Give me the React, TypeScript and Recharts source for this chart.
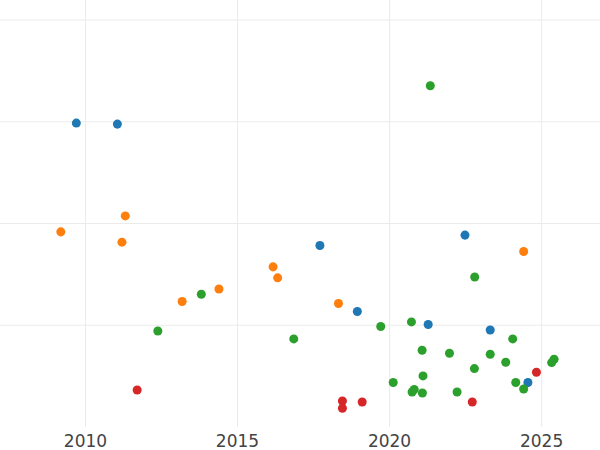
import { ScatterChart, Scatter, XAxis, YAxis, CartesianGrid } from "recharts";

type Pt = { x: number; y: number };

const blueX = [2009.7, 2011.05, 2017.71, 2018.94, 2021.27, 2022.48, 2023.31, 2024.55];
const blueY = [2.987, 2.977, 1.784, 1.135, 1.007, 1.886, 0.954, 0.437];

const orangeX = [2009.19, 2011.2, 2011.31, 2013.18, 2014.39, 2016.17, 2016.32, 2018.32, 2024.41];
const orangeY = [1.918, 1.817, 2.075, 1.233, 1.357, 1.574, 1.466, 1.214, 1.725];

const greenX = [
  2021.34, 2012.38, 2013.81, 2016.85, 2019.71, 2020.72, 2021.07, 2021.97, 2022.8, 2023.31, 2024.05,
  2023.82, 2022.79, 2021.1, 2020.12, 2020.74, 2020.81, 2021.08, 2022.22, 2024.15, 2024.41, 2025.33,
  2025.41,
];
const greenY = [
  3.354, 0.944, 1.305, 0.866, 0.988, 1.033, 0.754, 0.725, 1.475, 0.715, 0.866, 0.636, 0.574, 0.502,
  0.437, 0.344, 0.368, 0.334, 0.344, 0.437, 0.374, 0.633, 0.666,
];

const redX = [2011.7, 2018.45, 2018.45, 2019.1, 2022.72, 2024.83];
const redY = [0.364, 0.256, 0.184, 0.246, 0.246, 0.538];

const xDomain = [2007.19, 2026.92];
const yDomain = [0, 4.197];
const xTicks = [2010, 2015, 2020, 2025];
const yTicks = [1, 2, 3, 4];

function zip(xs: number[], ys: number[]): Pt[] {
  return xs.map((x, i) => ({ x, y: ys[i] }));
}

const series = [
  { name: "blue", color: "#1f77b4", data: zip(blueX, blueY) },
  { name: "orange", color: "#ff7f0e", data: zip(orangeX, orangeY) },
  { name: "green", color: "#2ca02c", data: zip(greenX, greenY) },
  { name: "red", color: "#d62728", data: zip(redX, redY) },
];

// only grid lines at the ticks, no border lines
const hLines = ({ offset }: any) =>
  yTicks.map(
    (t) => offset.top + offset.height * (1 - (t - yDomain[0]) / (yDomain[1] - yDomain[0]))
  );
const vLines = ({ offset }: any) =>
  xTicks.map((t) => offset.left + (offset.width * (t - xDomain[0])) / (xDomain[1] - xDomain[0]));

export default function App() {
  return (
    <div style={{ position: "fixed", top: 0, left: 0, width: 600, height: 450, background: "#fff" }}>
      <ScatterChart width={600} height={450} margin={{ top: 0, right: 0, bottom: 0, left: 0 }}>
        <CartesianGrid
          stroke="#ebebeb"
          strokeWidth={1}
          horizontalCoordinatesGenerator={hLines}
          verticalCoordinatesGenerator={vLines}
        />
        <XAxis
          type="number"
          dataKey="x"
          domain={xDomain}
          ticks={xTicks}
          allowDataOverflow
          axisLine={false}
          tickLine={false}
          height={23}
          tick={{ fill: "#444", fontSize: 17, fontFamily: "DejaVu Sans" }}
        />
        <YAxis
          type="number"
          dataKey="y"
          domain={yDomain}
          ticks={yTicks}
          allowDataOverflow
          width={0}
          hide
        />
        {series.map((s) => (
          <Scatter
            key={s.name}
            name={s.name}
            data={s.data}
            fill={s.color}
            isAnimationActive={false}
          />
        ))}
      </ScatterChart>
    </div>
  );
}
